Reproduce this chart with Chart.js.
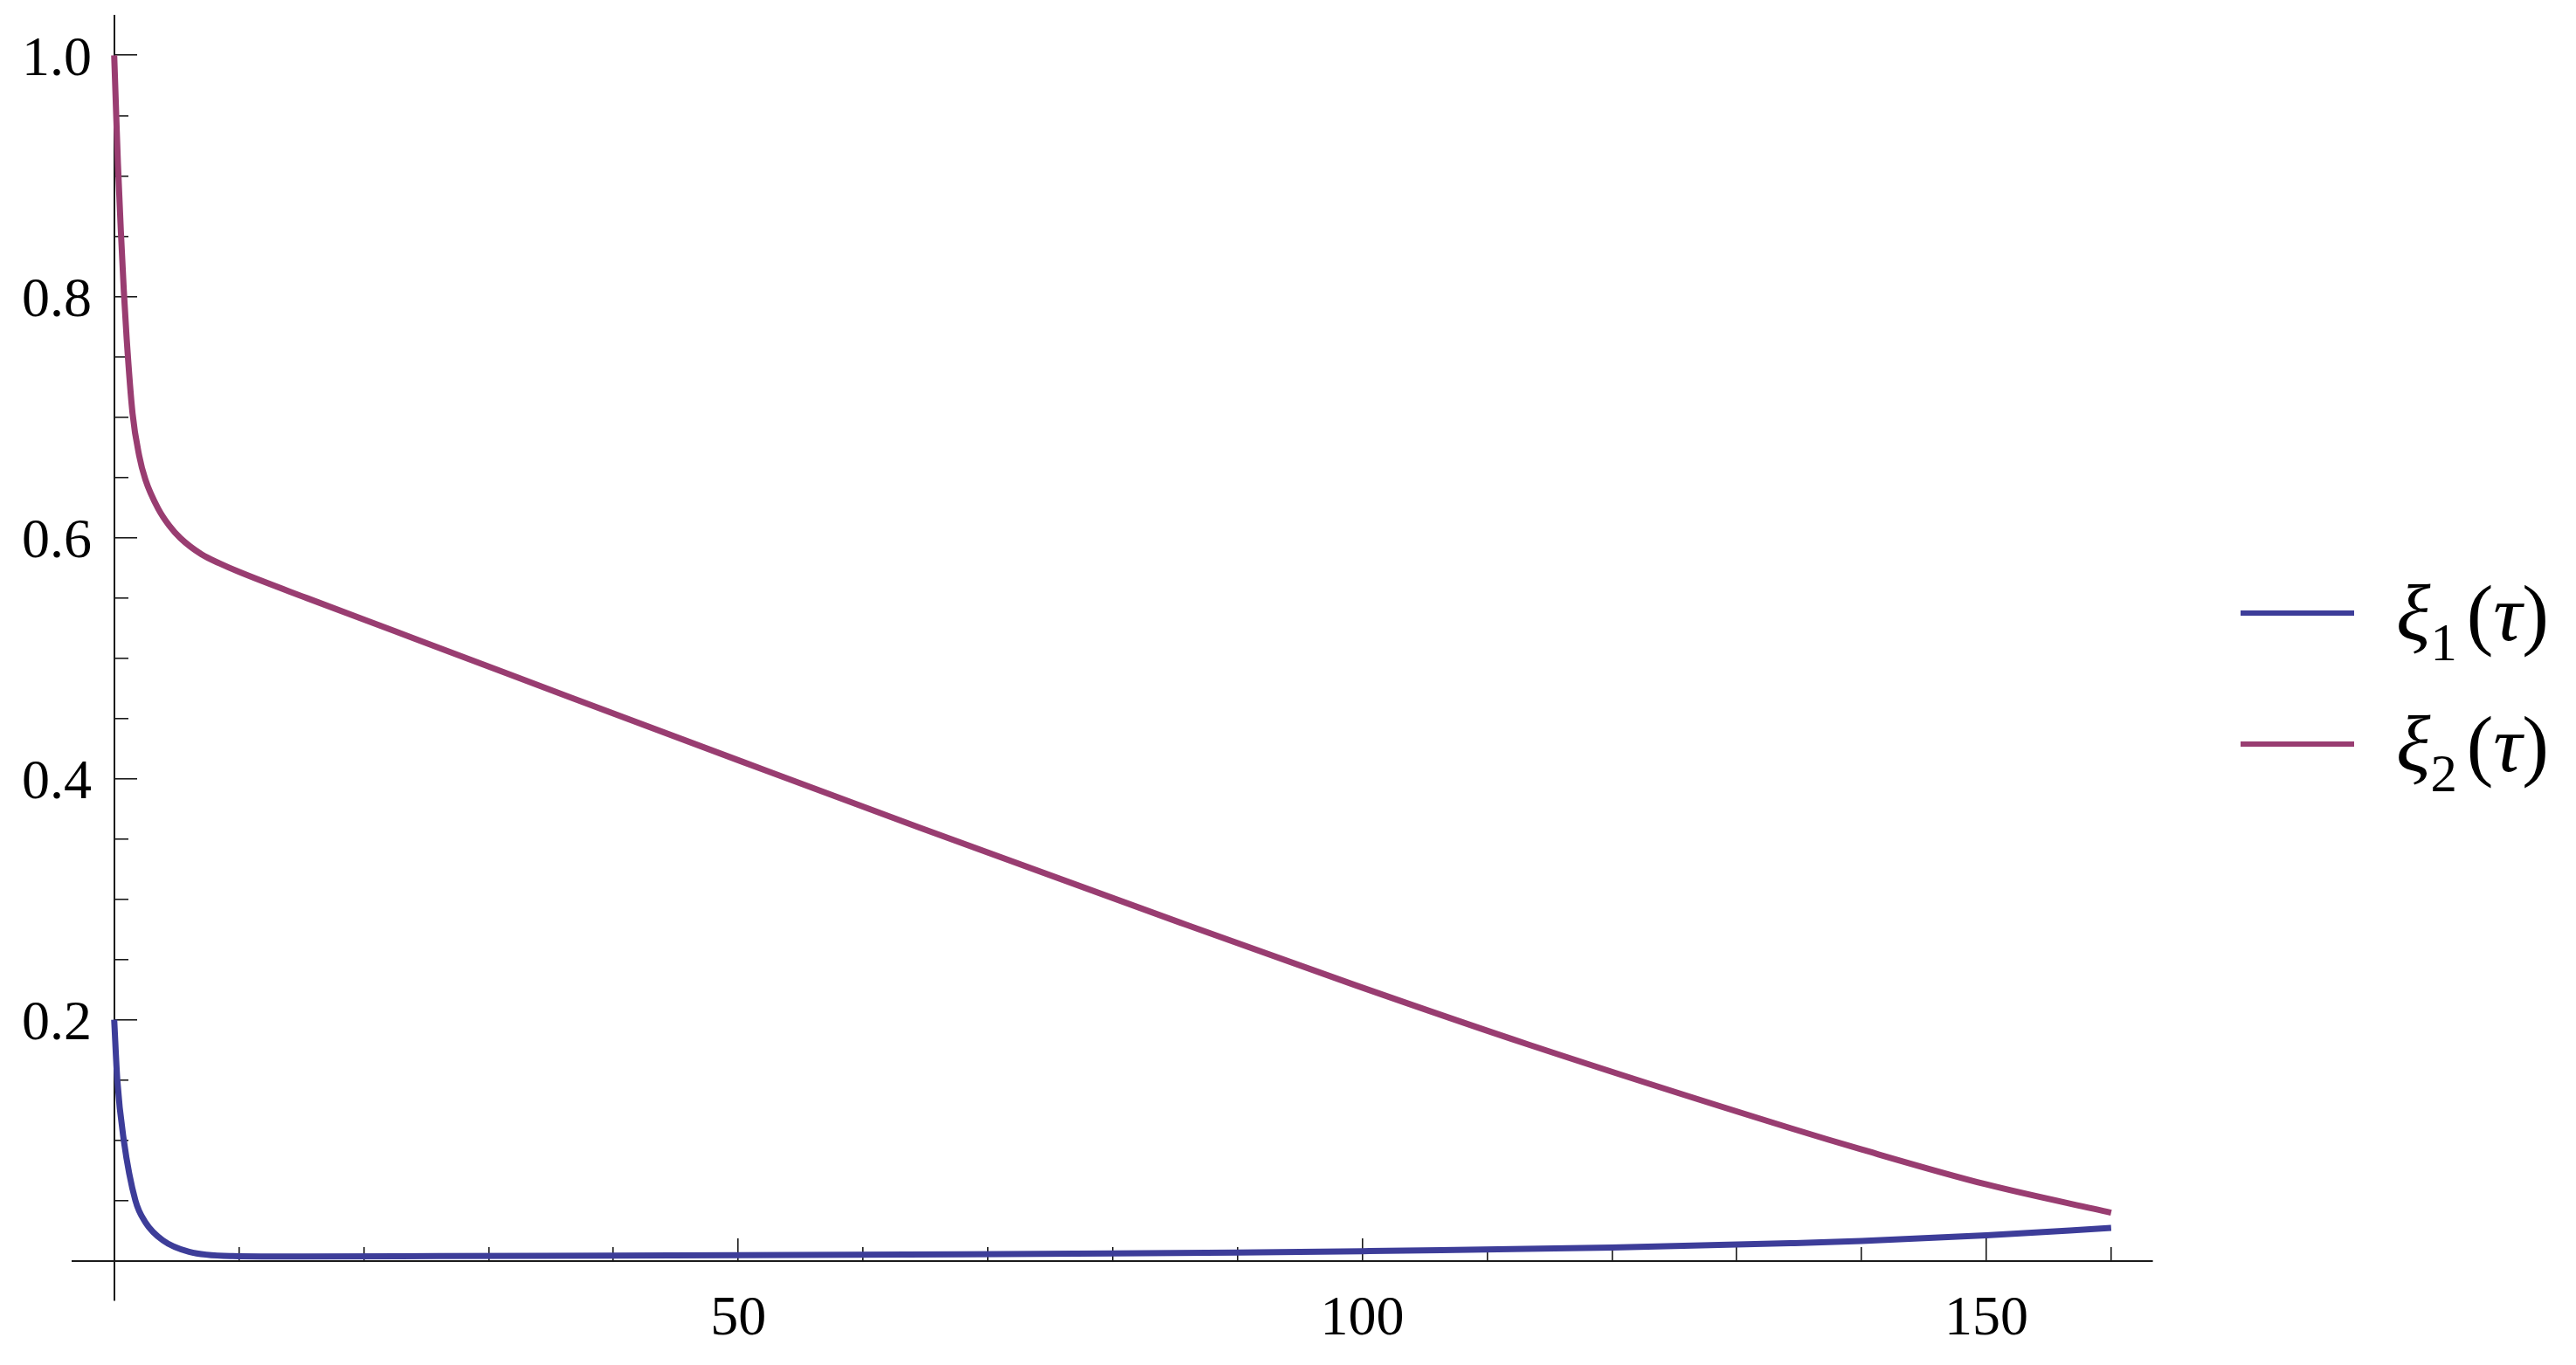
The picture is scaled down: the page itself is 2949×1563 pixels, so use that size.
<!DOCTYPE html>
<html>
<head>
<meta charset="utf-8">
<title>xi1(tau), xi2(tau)</title>
<script src="https://cdn.jsdelivr.net/npm/chart.js@4.4.1/dist/chart.umd.min.js"></script>
<style>
  html, body { margin: 0; padding: 0; background: #fff; }
  #wrap { position: relative; width: 2949px; height: 1563px; }
  #legend {
    position: absolute; left: 2565px; top: 627px;
    font-family: "Liberation Serif", "Tinos", "Times New Roman", "Noto Serif", "DejaVu Serif", serif;
    font-size: 92px; color: #000;
  }
  #legend .row { display: flex; align-items: center; height: 150px; }
  #legend .swatch { width: 130px; height: 6px; margin-right: 48px; }
  #legend .txt { line-height: 1; white-space: nowrap; }
  #legend sub { font-size: 0.66em; line-height: 0; vertical-align: baseline; position: relative; top: 0.38em; margin-right: 0.18em; }
</style>
</head>
<body>
<div id="wrap">
  <canvas id="chart"></canvas>
  <div id="legend"></div>
</div>
<script>
// values
const xi1Tau = [0, 0.25, 0.77, 1.7, 2.5, 3.9, 6.0, 9.5, 15, 26, 40, 50, 68, 80, 90, 100, 106.3, 120, 134.3, 140, 150, 160];
const xi1Vals = [0.2, 0.15, 0.10, 0.05, 0.032, 0.017, 0.0075, 0.004, 0.0036, 0.0039, 0.0044, 0.0047, 0.0054, 0.0061, 0.0069, 0.008, 0.0088, 0.0111, 0.0146, 0.0164, 0.0212, 0.0273];

const xi2Tau = [0, 0.18, 0.3, 0.53, 0.77, 1.0, 1.47, 2.0, 2.5, 3.57, 4.4, 5.3, 7.0, 8.45, 10, 15.45, 22.45, 29.45, 36.4, 50.4, 64.4, 85.4, 99.4, 113.4, 134.3, 140, 150, 160];
const xi2Vals = [1.0, 0.945, 0.91, 0.855, 0.805, 0.765, 0.703, 0.668, 0.648, 0.623, 0.610, 0.5995, 0.586, 0.5785, 0.5715, 0.5497, 0.5224, 0.4951, 0.468, 0.4137, 0.3598, 0.2806, 0.2288, 0.1791, 0.1101, 0.0924, 0.0634, 0.0399];

// ticks
const xMajorTicks = [50, 100, 150];
const xTickLabels = ["50", "100", "150"];
const xMinorTicks = [10, 20, 30, 40, 60, 70, 80, 90, 110, 120, 130, 140, 160];
const yMajorTicks = [0.2, 0.4, 0.6, 0.8, 1.0];
const yTickLabels = ["0.2", "0.4", "0.6", "0.8", "1.0"];
const yMinorTicks = [0.05, 0.1, 0.15, 0.25, 0.3, 0.35, 0.45, 0.5, 0.55, 0.65, 0.7, 0.75, 0.85, 0.9, 0.95];

// legend text pieces
const seriesSymbols = ["ξ", "ξ"];
const seriesSubs = ["1", "2"];
const seriesArg = "τ";
const seriesColors = ["#3d3d99", "#993d71"];

const X_MIN = -3.34, X_MAX = 163.3;
const Y_MIN = -0.0328, Y_MAX = 1.0328;

const axisColor = "#1a1a1a";
const labelFont = {
  family: "'Liberation Serif', 'Tinos', 'Times New Roman', 'Noto Serif', 'DejaVu Serif', serif",
  size: 64,
};

function toPoints(xs, ys) {
  return xs.map((x, i) => ({ x: x, y: ys[i] }));
}

function fixedTicks(values) {
  return (scale) => {
    scale.ticks = values.map((v) => ({ value: v }));
  };
}

function noPadding(scale) {
  scale.paddingLeft = 0;
  scale.paddingRight = 0;
  scale.paddingTop = 0;
  scale.paddingBottom = 0;
}

// widest y label, so the labels end 22px left of the vertical axis whatever serif is found
function widestLabel(labels) {
  const c = document.createElement("canvas").getContext("2d");
  c.font = labelFont.size + "px " + labelFont.family;
  return Math.max(...labels.map((t) => c.measureText(t).width));
}

// tick marks only, drawn inward from the axis through the origin
function markScale(axis, values, len, withLine) {
  return {
    type: "linear",
    axis: axis,
    position: axis === "x" ? { y: 0 } : { x: 0 },
    min: axis === "x" ? X_MIN : Y_MIN,
    max: axis === "x" ? X_MAX : Y_MAX,
    bounds: "data",
    border: { display: withLine, color: axisColor, width: 2 },
    grid: { display: true, drawOnChartArea: false, drawTicks: true, tickLength: -len, color: axisColor, tickColor: axisColor, lineWidth: 1.6 },
    ticks: { display: false },
    afterBuildTicks: fixedTicks(values),
    afterFit: noPadding,
  };
}

const xScale = markScale("x", xMajorTicks, 27, true);
xScale.ticks = {
  display: true,
  font: labelFont,
  color: "#000",
  padding: 56,
  autoSkip: false,
  maxRotation: 0,
  callback: (v, i) => xTickLabels[i],
};

const chart = new Chart(document.getElementById("chart"), {
  type: "line",
  data: {
    datasets: [
      {
        label: "ξ₁(τ)",
        data: toPoints(xi1Tau, xi1Vals),
        borderColor: seriesColors[0],
        backgroundColor: seriesColors[0],
        xAxisID: "x",
        yAxisID: "y",
      },
      {
        label: "ξ₂(τ)",
        data: toPoints(xi2Tau, xi2Vals),
        borderColor: seriesColors[1],
        backgroundColor: seriesColors[1],
        xAxisID: "x",
        yAxisID: "y",
      },
    ],
  },
  options: {
    responsive: true,
    maintainAspectRatio: false,
    animation: false,
    layout: { padding: { left: 0, top: 18, right: 485, bottom: 74 } },
    plugins: { legend: { display: false }, tooltip: { enabled: false } },
    elements: {
      point: { radius: 0 },
      line: { borderWidth: 7, cubicInterpolationMode: "monotone", fill: false },
    },
    scales: {
      x: xScale,
      xMinor: markScale("x", xMinorTicks, 16, false),
      // labels of the vertical axis (mirror keeps them from being clipped to the 83px box)
      y: {
        type: "linear",
        position: "left",
        min: Y_MIN,
        max: Y_MAX,
        bounds: "data",
        border: { display: false },
        grid: { display: false, drawTicks: false },
        ticks: {
          font: labelFont,
          color: "#000",
          mirror: true,
          crossAlign: "far",
          padding: 22 - widestLabel(yTickLabels),
          labelOffset: 6,
          autoSkip: false,
          callback: (v, i) => yTickLabels[i],
        },
        afterBuildTicks: fixedTicks(yMajorTicks),
        afterFit: (scale) => {
          noPadding(scale);
          scale.width = 83;
        },
      },
      yAxis: markScale("y", yMajorTicks, 27, true),
      yMinor: markScale("y", yMinorTicks, 16, false),
    },
  },
});

// LEGEND
function buildLegend(c) {
  const box = document.getElementById("legend");
  c.data.datasets.forEach((ds, i) => {
    const row = document.createElement("div");
    row.className = "row";
    row.innerHTML =
      `<span class="swatch" style="background:${ds.borderColor}"></span>` +
      `<span class="txt"><i>${seriesSymbols[i]}</i><sub>${seriesSubs[i]}</sub>(<i>${seriesArg}</i>)</span>`;
    box.appendChild(row);
  });
}

buildLegend(chart);
</script>
</body>
</html>
